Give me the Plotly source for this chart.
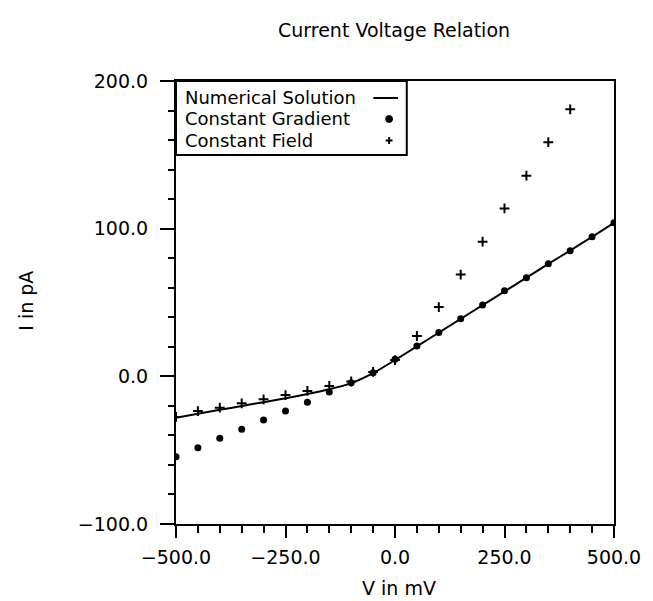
import plotly.graph_objects as go

# ---- data ----
voltage = [-500, -450, -400, -350, -300, -250, -200, -150, -100, -50,
           0, 50, 100, 150, 200, 250, 300, 350, 400, 450, 500]
numerical = [-28.0, -25.3, -22.7, -20.1, -17.5, -14.8, -12.0, -8.8, -4.6, 2.2,
             11.0, 20.3, 29.6, 38.9, 48.2, 57.5, 66.8, 76.1, 85.2, 94.5, 104.0]
gradient = [-54.4, -48.3, -42.0, -35.9, -29.6, -23.5, -17.5, -10.6, -4.3, 2.5,
            11.5, 20.5, 29.6, 39.0, 48.3, 58.0, 66.8, 76.3, 85.1, 94.6, 104.0]
field_v = [-500, -450, -400, -350, -300, -250, -200, -150, -100, -50,
           0, 50, 100, 150, 200, 250, 300, 350, 400]
field = [-27.5, -23.5, -21.2, -18.3, -15.6, -12.7, -9.9, -6.5, -3.5, 3.0,
         11.0, 27.3, 46.9, 68.9, 91.2, 113.7, 135.9, 158.6, 180.8]

series_names = ["Numerical Solution", "Constant Gradient", "Constant Field"]
title_text = "Current Voltage Relation"
x_title = "V in mV"
y_title = "I in pA"

W, H = 653, 601
L, R, T, B = 176, 31, 81, 77
PW, PH = W - L - R, H - T - B
FONT = "DejaVu Sans"
FS_TICK = 19
FS_LEG = 18
FS_TITLE = 19

def px(x):
    return (x - L) / PW

def py(y):
    return (H - B - y) / PH

fig = go.Figure()
fig.add_trace(go.Scatter(x=voltage, y=numerical, mode="lines",
                         line=dict(color="black", width=2, shape="spline", smoothing=0.6),
                         name=series_names[0], cliponaxis=True))
fig.add_trace(go.Scatter(x=voltage, y=gradient, mode="markers",
                         marker=dict(symbol="circle", size=7, color="black"),
                         name=series_names[1], cliponaxis=True))
fig.add_trace(go.Scatter(x=field_v, y=field, mode="markers",
                         marker=dict(symbol="cross-thin", size=7, color="black",
                                     line=dict(color="black", width=2)),
                         name=series_names[2], cliponaxis=True))

axis_common = dict(showline=True, linecolor="black", linewidth=2, mirror=True,
                   showgrid=False, zeroline=False, ticks="outside",
                   tickcolor="black", tickwidth=2, tickformat=".1f",
                   tickfont=dict(family=FONT, size=FS_TICK, color="black"))

fig.update_xaxes(range=[-500, 500], tick0=-500, dtick=250, ticklen=12,
                 minor=dict(dtick=50, tick0=-500, ticklen=7, ticks="outside",
                            tickcolor="black", tickwidth=2, showgrid=False),
                 ticklabelstandoff=3, **axis_common)
fig.update_yaxes(range=[-100, 200], tick0=-100, dtick=100, ticklen=14,
                 minor=dict(dtick=20, tick0=-100, ticklen=6, ticks="outside",
                            tickcolor="black", tickwidth=2, showgrid=False),
                 ticklabelstandoff=8, **axis_common)

shapes = []
# legend box
shapes.append(dict(type="rect", xref="paper", yref="paper",
                   x0=0, x1=px(411), y0=py(155), y1=1,
                   line=dict(color="black", width=2), fillcolor="white", layer="above"))
# legend symbols
shapes.append(dict(type="line", xref="paper", yref="paper",
                   x0=px(377), x1=px(402), y0=py(98), y1=py(98),
                   line=dict(color="black", width=2), layer="above"))
shapes.append(dict(type="circle", xref="paper", yref="paper",
                   x0=px(389.5), x1=px(396.5), y0=py(122.5), y1=py(115.5),
                   line=dict(color="black", width=1), fillcolor="black", layer="above"))
shapes.append(dict(type="line", xref="paper", yref="paper",
                   x0=px(389.5), x1=px(396.5), y0=py(140.5), y1=py(140.5),
                   line=dict(color="black", width=2), layer="above"))
shapes.append(dict(type="line", xref="paper", yref="paper",
                   x0=px(393), x1=px(393), y0=py(137), y1=py(144),
                   line=dict(color="black", width=2), layer="above"))

annotations = []
for name, yy in zip(series_names, [97.5, 119, 140.5]):
    annotations.append(dict(text=name, xref="paper", yref="paper",
                            x=px(183), y=py(yy), xanchor="left", yanchor="middle",
                            showarrow=False,
                            font=dict(family=FONT, size=FS_LEG, color="black")))
annotations.append(dict(text=x_title, xref="paper", yref="paper",
                        x=px(403), y=py(588), xanchor="center", yanchor="middle",
                        showarrow=False, font=dict(family=FONT, size=FS_TITLE, color="black")))
annotations.append(dict(text=y_title, xref="paper", yref="paper",
                        x=px(23), y=py(301), xanchor="center", yanchor="middle",
                        textangle=-90, showarrow=False,
                        font=dict(family=FONT, size=FS_TITLE, color="black")))
annotations.append(dict(text=title_text, xref="paper", yref="paper",
                        x=px(398), y=py(30), xanchor="center", yanchor="middle",
                        showarrow=False, font=dict(family=FONT, size=FS_TITLE, color="black")))

fig.update_layout(width=W, height=H, margin=dict(l=L, r=R, t=T, b=B),
                  paper_bgcolor="white", plot_bgcolor="white",
                  showlegend=False, shapes=shapes, annotations=annotations,
                  font=dict(family=FONT, size=FS_TICK, color="black"))

fig.write_html("out.html")
